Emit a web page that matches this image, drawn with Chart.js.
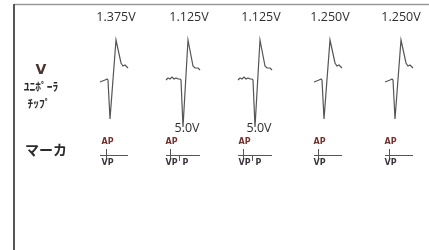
<!DOCTYPE html>
<html>
<head>
<meta charset="utf-8">
<script src="https://cdn.jsdelivr.net/npm/chart.js@4.4.1/dist/chart.umd.min.js"></script>
<style>
  body { margin: 0; background: #fff; }
  #wrap { width: 429px; height: 250px; }
</style>
</head>
<body>
<div id="wrap"><canvas id="ecg" width="429" height="250"></canvas></div>
<script>
// Datos: latidos del test de umbral (tiempo del estímulo, amplitud de salida)
const beatTimes = [108, 181, 253, 322, 393];
const beatVoltages = ['1.375V', '1.125V', '1.125V', '1.250V', '1.250V'];
const backupLabels = ['', '5.0V', '5.0V', '', ''];
const beatShape = ['normal', 'ruido', 'ruido', 'normal', 'normal'];
const apTimes = [106, 170, 243, 318, 389];
const extraP = [false, true, true, false, false];

// Plantillas de la onda (tiempo relativo al estímulo, amplitud)
const normalT = [-8, -3, -1, 0, 2, 8, 13, 15, 17, 20];
const normalA = [-3, -1, 0, -1, -40, 39, 16, 13, 14, 11];
const ruidoT = [-15, -13, -11, -9, -7, -5, -3, -1, 0, 2, 7, 12, 14, 17, 19];
const ruidoA = [-1, 1, 0, 2, 0, 1, 0, 0, -1, -48, 39, 13, 11, 11, 9];

const plantillas = {
  normal: { t: normalT, a: normalA },
  ruido: { t: ruidoT, a: ruidoA }
};

// Construir la serie con un hueco entre latidos
const puntos = [];
beatTimes.forEach((t0, i) => {
  const p = plantillas[beatShape[i]];
  p.t.forEach((t, k) => puntos.push({ x: t0 + t, y: p.a[k] }));
  puntos.push({ x: t0 + 21, y: null });
});

// Rótulos, marco y canal de marcas
const etiquetas = {
  id: 'etiquetas',
  beforeDatasetsDraw(chart) {
    const ctx = chart.ctx;
    const xs = chart.scales.x;
    ctx.save();

    // marco
    ctx.strokeStyle = '#9a9a9a';
    ctx.lineWidth = 1.5;
    ctx.beginPath(); ctx.moveTo(14, 4.5); ctx.lineTo(429, 4.5); ctx.stroke();
    ctx.strokeStyle = '#555';
    ctx.lineWidth = 2;
    ctx.beginPath(); ctx.moveTo(14, 4); ctx.lineTo(14, 250); ctx.stroke();

    // nombres de canal
    ctx.textAlign = 'center';
    ctx.textBaseline = 'middle';
    ctx.fillStyle = '#4a3430';
    ctx.font = 'bold 14px "DejaVu Sans"';
    ctx.fillText('V', 41, 70);
    ctx.fillStyle = '#2e2a2c';
    ctx.font = 'bold 11.5px "Noto Sans CJK JP"';
    ctx.fillText('ﾕﾆﾎﾟｰﾗ', 41, 87);
    ctx.fillText('ﾁｯﾌﾟ', 39, 104);
    ctx.font = 'bold 14px "Noto Sans CJK JP"';
    ctx.fillText('マーカ', 46, 150);

    // voltajes de cada latido
    ctx.fillStyle = '#2e2e2e';
    ctx.font = '12.5px "Open Sans"';
    beatTimes.forEach((t0, i) => {
      ctx.fillText(beatVoltages[i], xs.getPixelForValue(t0 + 8), 17);
      if (backupLabels[i]) ctx.fillText(backupLabels[i], xs.getPixelForValue(t0 + 6), 128);
    });

    // marcas AP / VP
    ctx.strokeStyle = '#555';
    ctx.lineWidth = 1;
    beatTimes.forEach((t0, i) => {
      const p = plantillas[beatShape[i]];
      const xa = xs.getPixelForValue(t0 + p.t[0]);
      const xb = xs.getPixelForValue(t0 + p.t[p.t.length - 1]);
      ctx.beginPath(); ctx.moveTo(xa, 155.5); ctx.lineTo(xb, 155.5); ctx.stroke();
      const xp = Math.round(xs.getPixelForValue(apTimes[i])) + 0.5;
      ctx.beginPath(); ctx.moveTo(xp, 149); ctx.lineTo(xp, 159); ctx.stroke();
      ctx.font = 'bold 8px "DejaVu Sans"';
      ctx.fillStyle = '#6e3434';
      ctx.fillText('AP', xp + 1, 142);
      ctx.fillStyle = '#3e3440';
      ctx.fillText('VP', xp + 1, 163);
      if (extraP[i]) {
        ctx.beginPath(); ctx.moveTo(xp + 9, 156); ctx.lineTo(xp + 9, 161); ctx.stroke();
        ctx.fillText('P', xp + 15, 163);
      }
    });
    ctx.restore();
  }
};

const ctx = document.getElementById('ecg').getContext('2d');
new Chart(ctx, {
  type: 'line',
  data: {
    datasets: [{
      data: puntos,
      borderColor: '#555',
      borderWidth: 1.2,
      pointRadius: 0,
      tension: 0,
      spanGaps: false
    }]
  },
  options: {
    responsive: false,
    animation: false,
    devicePixelRatio: 1,
    layout: { padding: 0 },
    plugins: { legend: { display: false }, tooltip: { enabled: false } },
    scales: {
      x: { type: 'linear', min: 0, max: 429, display: false },
      y: { type: 'linear', min: -171, max: 79, display: false }
    }
  },
  plugins: [etiquetas]
});
</script>
</body>
</html>
